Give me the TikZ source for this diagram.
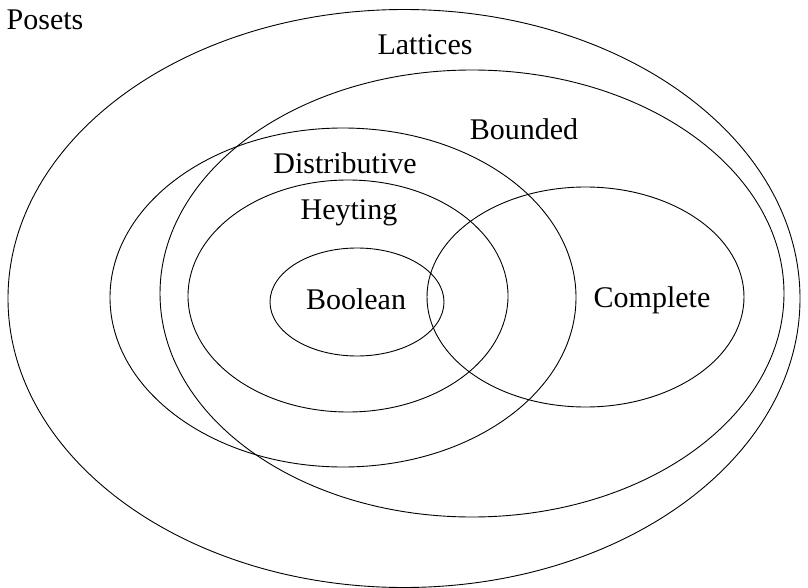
\documentclass[tikz,border=0pt]{standalone}
\usepackage{fontspec}
\setmainfont{Liberation Serif}
\usetikzlibrary{shapes.geometric}
\begin{document}
\begin{tikzpicture}[x=1pt,y=-1pt,
  set/.style={draw=black,line width=0.9pt,ellipse,inner sep=0pt,outer sep=0pt},
  lbl/.style={anchor=base,inner sep=0pt,font=\fontsize{30}{34}\selectfont}]
\useasboundingbox (0,0) rectangle (808,588);
\node[set,minimum width=792pt,minimum height=578pt] (lat) at (404,298.5) {};
\node[set,minimum width=624pt,minimum height=447pt] (bnd) at (472,293.5) {};
\node[set,minimum width=466pt,minimum height=339pt] (dis) at (343,297.5) {};
\node[set,minimum width=320pt,minimum height=232pt] (hey) at (348,296) {};
\node[set,minimum width=174pt,minimum height=108pt] (boo) at (357,302) {};
\node[set,minimum width=317pt,minimum height=220pt] (com) at (585.5,297) {};
\node[lbl] (tpos) at (45,30) {Posets};
\node[lbl] (tlat) at (425,55) {Lattices};
\node[lbl] (tbnd) at (524,140) {Bounded};
\node[lbl] (tdis) at (345,174) {Distributive};
\node[lbl] (they) at (349,219) {Heyting};
\node[lbl] (tboo) at (356,309) {Boolean};
\node[lbl] (tcom) at (652,307) {Complete};
\end{tikzpicture}
\end{document}
